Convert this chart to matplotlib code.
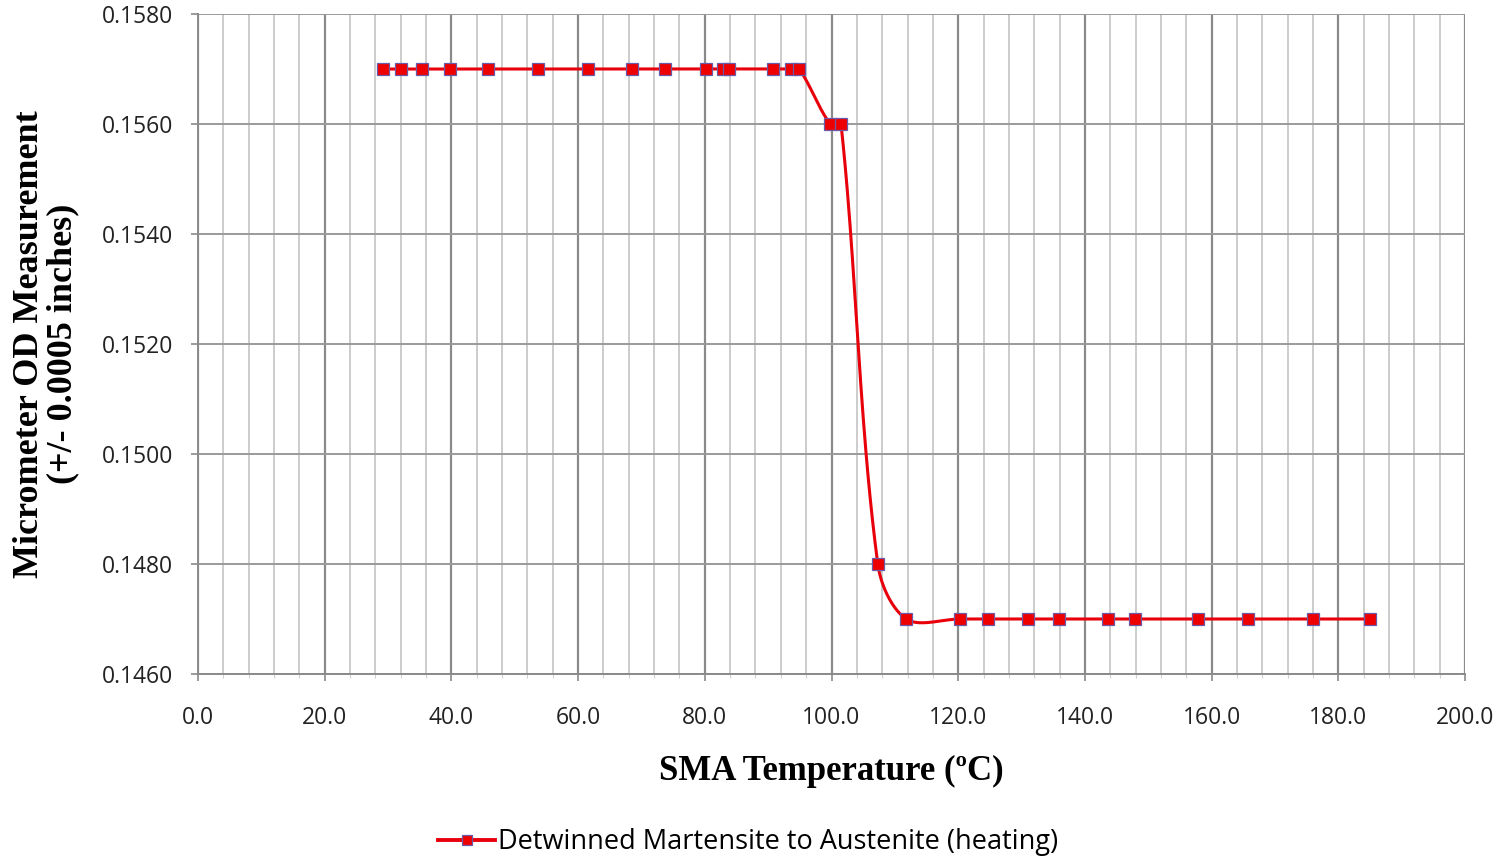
import numpy as np
import matplotlib
matplotlib.use("Agg")
import matplotlib.pyplot as plt
from matplotlib.ticker import MultipleLocator, FormatStrFormatter

# SMA temperature (deg C) and measured outer diameter (inches)
temperature = [29.2, 32.0, 35.4, 39.8, 45.8, 53.7, 61.6, 68.5, 73.7, 80.2,
               82.9, 83.8, 90.8, 93.6, 94.9, 99.8, 101.5, 107.3, 111.8,
               120.3, 124.7, 131.0, 135.9, 143.6, 147.9, 157.9, 165.7,
               176.0, 185.0]
diameter = [0.1570] * 15 + [0.1560, 0.1560, 0.1480] + [0.1470] * 11

series_label = "Detwinned Martensite to Austenite (heating)"
x_label = "SMA Temperature (ºC)"
y_label = "Micrometer OD Measurement\n(+/- 0.0005 inches)"

XMIN, XMAX = 0.0, 200.0
YMIN, YMAX = 0.1460, 0.1580

fig = plt.figure(figsize=(14.95, 8.61), dpi=100)
ax = fig.add_axes([0.1324, 0.2172, 0.8476, 0.7665])


def smooth_curve(xs, ys, n=40):
    """Bezier smoothing with chord-scaled tangents, in screen-proportional space."""
    bbox = ax.get_position()
    w = bbox.width * fig.get_figwidth()
    h = bbox.height * fig.get_figheight()
    px = (np.asarray(xs) - XMIN) / (XMAX - XMIN) * w
    py = (np.asarray(ys) - YMIN) / (YMAX - YMIN) * h
    pts = np.column_stack([px, py])
    d = np.hypot(*np.diff(pts, axis=0).T)
    out = []
    for i in range(len(pts) - 1):
        p1, p2 = pts[i], pts[i + 1]
        if i > 0:
            t1 = (p2 - pts[i - 1]) * d[i] / (d[i - 1] + d[i]) / 3.0
        else:
            t1 = (p2 - p1) / 3.0
        if i + 2 < len(pts):
            t2 = (pts[i + 2] - p1) * d[i] / (d[i] + d[i + 1]) / 3.0
        else:
            t2 = (p2 - p1) / 3.0
        c1 = p1 + t1
        c2 = p2 - t2
        t = np.linspace(0, 1, n)[:, None]
        seg = ((1 - t) ** 3) * p1 + 3 * ((1 - t) ** 2) * t * c1 \
            + 3 * (1 - t) * t ** 2 * c2 + t ** 3 * p2
        out.append(seg if i == 0 else seg[1:])
    out = np.vstack(out)
    sx = out[:, 0] / w * (XMAX - XMIN) + XMIN
    sy = out[:, 1] / h * (YMAX - YMIN) + YMIN
    return sx, sy


sx, sy = smooth_curve(temperature, diameter)
ax.plot(sx, sy, color="#e8000b", lw=2.2, zorder=3, solid_capstyle="round")
ax.plot(temperature, diameter, ls="none", marker="s", ms=8,
        markerfacecolor="#ee0000", markeredgecolor="#6a5aa8",
        markeredgewidth=0.9, zorder=4)

# legend proxy: line with square marker
ax.plot([], [], color="#e8000b", lw=2.8, marker="s", ms=7,
        markerfacecolor="#ee0000", markeredgecolor="#6a5aa8",
        markeredgewidth=0.9, label=series_label)

ax.set_xlim(XMIN, XMAX)
ax.set_ylim(YMIN, YMAX)
ax.xaxis.set_major_locator(MultipleLocator(20))
ax.xaxis.set_minor_locator(MultipleLocator(4))
ax.yaxis.set_major_locator(MultipleLocator(0.002))
ax.xaxis.set_major_formatter(FormatStrFormatter("%.1f"))
ax.yaxis.set_major_formatter(FormatStrFormatter("%.4f"))

ax.grid(which="minor", axis="x", color="#c8c8c8", lw=1.3)
ax.grid(which="major", axis="x", color="#8a8a8a", lw=1.6)
ax.grid(which="major", axis="y", color="#9a9a9a", lw=1.4)
ax.set_axisbelow(True)

for side in ("top", "right"):
    ax.spines[side].set_visible(False)
for side in ("left", "bottom"):
    ax.spines[side].set_color("#8a8a8a")
    ax.spines[side].set_linewidth(1.4)

ax.tick_params(which="major", direction="out", length=5, width=1.2,
               color="#8a8a8a", labelsize=16.5, labelcolor="#222222")
ax.tick_params(which="minor", direction="out", length=3, width=0.8,
               color="#d0d0d0")
ax.tick_params(axis="x", which="major", pad=18)
ax.tick_params(axis="y", which="major", pad=13)
for lab in ax.get_xticklabels() + ax.get_yticklabels():
    lab.set_fontfamily("Open Sans")

ax.set_xlabel(x_label, fontsize=25, fontweight="bold",
              family="Liberation Serif", labelpad=18)
ax.set_ylabel(y_label, fontsize=26, fontweight="bold",
              family="Liberation Serif", labelpad=16, linespacing=1.0)

fig.legend(loc="center", bbox_to_anchor=(748 / 1495, 1 - 842 / 861),
           frameon=False, prop={"family": "Open Sans", "size": 19.5},
           handlelength=2.1, handletextpad=0.1)

fig.savefig("out.png", dpi=100)
